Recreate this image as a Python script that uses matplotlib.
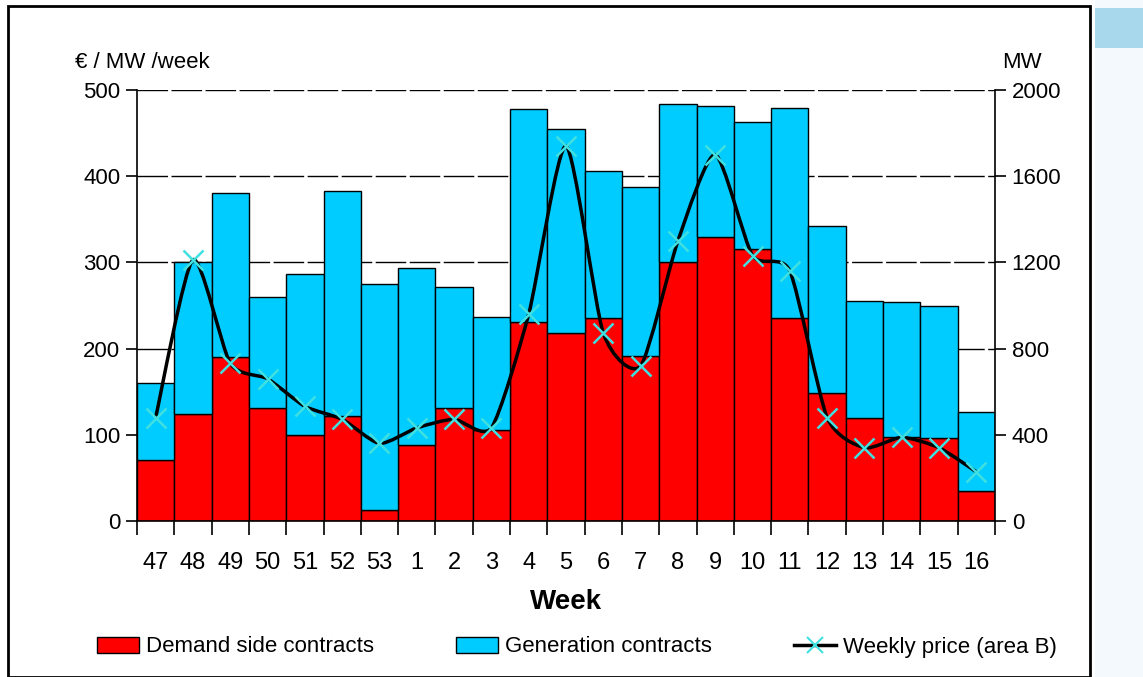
import numpy as np
import matplotlib.pyplot as plt
from matplotlib.path import Path
from matplotlib.patches import PathPatch, Patch, Rectangle
from matplotlib.lines import Line2D

weeks = ['47', '48', '49', '50', '51', '52', '53', '1', '2', '3', '4', '5',
         '6', '7', '8', '9', '10', '11', '12', '13', '14', '15', '16']
# MW (right axis)
demand_mw = [284, 496, 760, 524, 400, 488, 52, 352, 524, 420, 924, 872,
             940, 764, 1200, 1316, 1260, 940, 592, 480, 392, 384, 140]
total_mw = [640, 1200, 1520, 1040, 1144, 1532, 1100, 1172, 1084, 948, 1912, 1820,
            1624, 1548, 1936, 1928, 1852, 1916, 1368, 1020, 1016, 996, 508]
generation_mw = [t - d for t, d in zip(total_mw, demand_mw)]
# €/MW/week (left axis)
price = [120, 303, 183, 165, 133, 118, 90, 108, 118, 108, 240, 435,
         218, 180, 325, 425, 308, 290, 120, 85, 97, 85, 57]

plt.rcParams['font.family'] = ['Liberation Sans', 'DejaVu Sans']

fig = plt.figure(figsize=(11.43, 6.77), dpi=100)
ax = fig.add_axes([137 / 1143, 1 - 521 / 677, (995 - 137) / 1143, (521 - 90) / 677])
ax2 = ax.twinx()

x = np.arange(len(weeks))
ax2.bar(x, demand_mw, width=1.0, color='#ff0000', edgecolor='black', linewidth=1)
ax2.bar(x, generation_mw, width=1.0, bottom=demand_mw, color='#00ccff',
        edgecolor='black', linewidth=1)
ax2.set_ylim(0, 2000)
ax2.set_yticks([0, 400, 800, 1200, 1600, 2000])

# left axis in front so the price line sits over the bars
ax.set_zorder(ax2.get_zorder() + 1)
ax.patch.set_visible(False)
ax.set_ylim(0, 500)
ax.set_xlim(-0.5, len(weeks) - 0.5)
ax.set_yticks([0, 100, 200, 300, 400, 500])

# gridlines drawn on the bars' axis so they sit behind the bars
for v in [400, 800, 1200, 1600, 2000]:
    ax2.axhline(v, color='black', lw=1, dashes=(22, 2.5), zorder=0)

# smoothed price line
k = 1 / 9
px = x.astype(float)
py = np.array(price, dtype=float)
verts = [(px[0], py[0])]
codes = [Path.MOVETO]
n = len(px)
for i in range(n - 1):
    p0 = (px[max(i - 1, 0)], py[max(i - 1, 0)])
    p1 = (px[i], py[i])
    p2 = (px[i + 1], py[i + 1])
    p3 = (px[min(i + 2, n - 1)], py[min(i + 2, n - 1)])
    c1 = (p1[0] + (p2[0] - p0[0]) * k, p1[1] + (p2[1] - p0[1]) * k)
    c2 = (p2[0] - (p3[0] - p1[0]) * k, p2[1] - (p3[1] - p1[1]) * k)
    verts += [c1, c2, p2]
    codes += [Path.CURVE4] * 3
ax.add_patch(PathPatch(Path(verts, codes), facecolor='none', edgecolor='black', lw=2.5,
                       zorder=3))
ax.plot(px, py, linestyle='none', marker='x', color='#40e0e0', markersize=14,
        markeredgewidth=1.8, zorder=4)

for a in (ax, ax2):
    for s in a.spines.values():
        s.set_visible(False)
ax.spines['left'].set_visible(True)
ax.spines['bottom'].set_visible(True)
ax2.spines['right'].set_visible(True)
for a in (ax, ax2):
    for s in a.spines.values():
        s.set_linewidth(1.2)

ax.set_xticks(np.arange(len(weeks) + 1) - 0.5)
ax.set_xticklabels([])
ax.set_xticks(x, minor=True)
ax.set_xticklabels(weeks, minor=True, fontsize=17)
ax.tick_params(axis='x', which='major', length=10, width=1.2)
ax.tick_params(axis='x', which='minor', length=0, pad=22)
ax.tick_params(axis='y', length=8, width=1.2, labelsize=16, pad=4)
ax2.tick_params(axis='y', length=8, width=1.2, labelsize=16, pad=4)
ax.set_xlabel('Week', fontsize=20, fontweight='bold', labelpad=11)

fig.text(75 / 1143, 1 - 62 / 677, '€ / MW /week', fontsize=16, va='center')
fig.text(1002 / 1143, 1 - 62 / 677, 'MW', fontsize=16, va='center')

handles = [Patch(facecolor='#ff0000', edgecolor='black'),
           Patch(facecolor='#00ccff', edgecolor='black'),
           Line2D([], [], color='black', lw=2.5, marker='x', markeredgecolor='#40e0e0',
                  markersize=12, markeredgewidth=1.5)]
fig.legend(handles, ['Demand side contracts', 'Generation contracts', 'Weekly price (area B)'],
           loc='center', bbox_to_anchor=(577 / 1143, 1 - 647 / 677), ncol=3, frameon=False,
           fontsize=16, handlelength=1.9, columnspacing=3.7, handletextpad=0.3)

# frame and side panel
fig.patches.append(Rectangle((8 / 1143, 0), (1090 - 8) / 1143, 1 - 6 / 677, transform=fig.transFigure,
                             fill=False, edgecolor='black', lw=2))
fig.patches.append(Rectangle((1095 / 1143, 0), 48 / 1143, 1, transform=fig.transFigure,
                             facecolor='#f4f9fd', edgecolor='none', zorder=-1))
fig.patches.append(Rectangle((1095 / 1143, 1 - 48 / 677), 48 / 1143, 40 / 677,
                             transform=fig.transFigure, facecolor='#a8d8ec', edgecolor='none'))

fig.savefig('out.png', dpi=100)
